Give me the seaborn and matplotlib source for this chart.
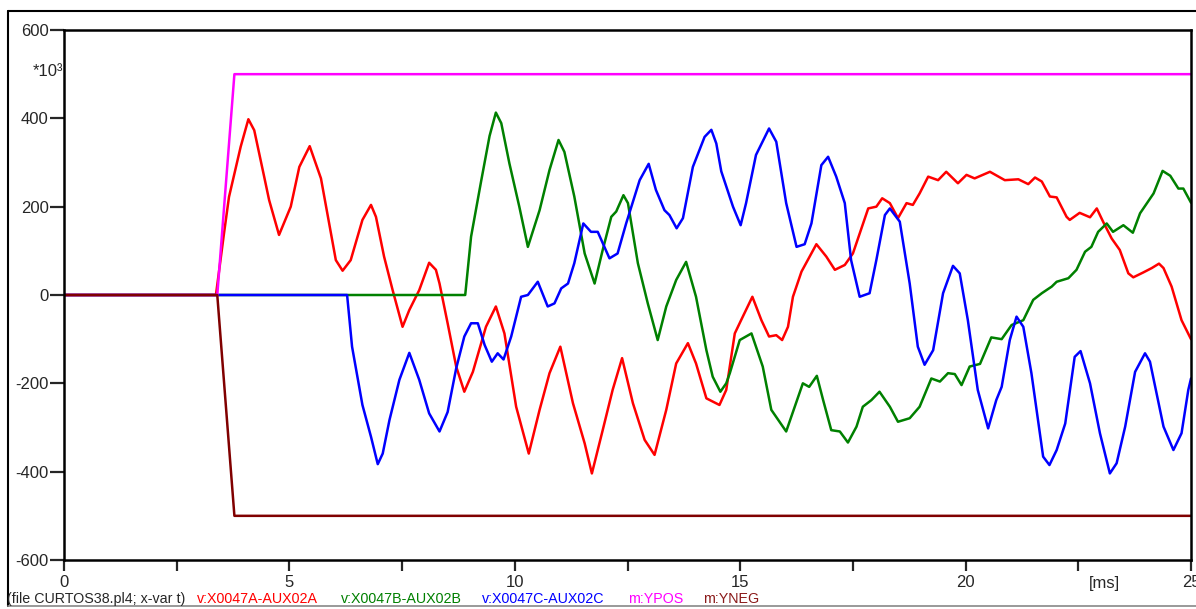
import pandas as pd
import numpy as np
import matplotlib
matplotlib.use("Agg")
import matplotlib.pyplot as plt
from matplotlib.lines import Line2D
import seaborn as sns

# --- data (time in ms, value in *10^3) ---
t_a = [0, 3.37, 3.55, 3.66, 3.92, 4.09, 4.22, 4.44, 4.55, 4.77, 5.03, 5.22, 5.45, 5.70, 6.03, 6.18,
       6.36, 6.62, 6.81, 6.92, 7.10, 7.29, 7.51, 7.66, 7.88, 8.10, 8.25, 8.33, 8.51, 8.70, 8.88, 9.07,
       9.36, 9.58, 9.77, 10.03, 10.31, 10.55, 10.77, 11.01, 11.29, 11.55, 11.71, 11.95, 12.17, 12.38,
       12.62, 12.88, 13.10, 13.36, 13.58, 13.84, 14.02, 14.25, 14.54, 14.69, 14.88, 15.02, 15.27, 15.47,
       15.64, 15.80, 15.93, 16.06, 16.17, 16.36, 16.69, 16.91, 17.10, 17.32, 17.50, 17.84, 18.02, 18.15,
       18.32, 18.50, 18.69, 18.83, 18.98, 19.17, 19.39, 19.57, 19.83, 20.02, 20.20, 20.54, 20.87, 21.17,
       21.39, 21.54, 21.69, 21.87, 22.02, 22.24, 22.31, 22.53, 22.76, 22.91, 23.05, 23.24, 23.42, 23.61,
       23.72, 23.94, 24.13, 24.29, 24.39, 24.57, 24.79, 25.0]
v_a = [0, 0, 140, 222, 336, 398, 373, 268, 215, 136, 200, 290, 337, 264, 79, 55,
       79, 170, 204, 177, 87, 11, -72, -34, 11, 73, 57, 26, -64, -162, -219, -174,
       -72, -26, -87, -253, -359, -260, -177, -117, -245, -336, -404, -306, -215, -143,
       -245, -328, -362, -260, -155, -109, -155, -234, -249, -215, -87, -57, -4, -57,
       -94, -91, -102, -72, -4, 53, 115, 87, 57, 68, 94, 196, 200, 219,
       208, 174, 208, 204, 230, 268, 260, 279, 253, 272, 264, 279, 260, 262,
       251, 266, 257, 223, 221, 177, 170, 186, 176, 196, 166, 128, 102, 49,
       40, 51, 61, 71, 61, 19, -57, -100]

t_b = [0, 8.90, 9.03, 9.25, 9.44, 9.58, 9.70, 9.88, 10.10, 10.29, 10.55, 10.77, 10.97, 11.10, 11.32,
       11.55, 11.77, 11.95, 12.14, 12.25, 12.41, 12.51, 12.73, 12.95, 13.17, 13.36, 13.58, 13.80, 14.02,
       14.25, 14.39, 14.56, 14.69, 14.77, 14.99, 15.25, 15.50, 15.69, 16.02, 16.21, 16.39, 16.53, 16.70,
       16.84, 17.02, 17.21, 17.39, 17.58, 17.72, 17.91, 18.09, 18.32, 18.50, 18.76, 18.98, 19.24, 19.43,
       19.61, 19.76, 19.91, 20.09, 20.32, 20.57, 20.80, 21.02, 21.28, 21.50, 21.69, 21.91, 22.02, 22.28,
       22.46, 22.65, 22.79, 22.94, 23.13, 23.27, 23.50, 23.71, 23.87, 24.17, 24.37, 24.54, 24.72, 24.83,
       25.0]
v_b = [0, 0, 132, 256, 360, 413, 389, 298, 200, 109, 192, 283, 351, 324, 223,
       94, 26, 102, 177, 189, 226, 208, 72, -19, -102, -26, 34, 75, -4,
       -125, -185, -219, -200, -177, -102, -87, -162, -260, -309, -253, -200, -208, -183,
       -238, -306, -309, -334, -298, -253, -238, -219, -253, -287, -279, -253, -189, -196,
       -177, -179, -204, -162, -156, -96, -100, -68, -57, -11, 4, 19, 30, 38,
       57, 98, 109, 143, 162, 143, 158, 141, 185, 230, 281, 270, 241, 241,
       209]

t_c = [0, 6.28, 6.39, 6.62, 6.81, 6.96, 7.07, 7.22, 7.44, 7.66, 7.88, 8.10, 8.33, 8.51, 8.70, 8.88,
       9.03, 9.18, 9.33, 9.49, 9.62, 9.75, 9.92, 10.14, 10.29, 10.51, 10.73, 10.88, 11.03, 11.18, 11.32,
       11.52, 11.69, 11.84, 12.10, 12.28, 12.47, 12.77, 12.97, 13.13, 13.32, 13.43, 13.59, 13.73, 13.95,
       14.21, 14.36, 14.47, 14.58, 14.84, 15.01, 15.13, 15.35, 15.64, 15.80, 16.02, 16.25, 16.43, 16.58,
       16.80, 16.95, 17.13, 17.32, 17.46, 17.65, 17.87, 18.02, 18.21, 18.32, 18.54, 18.76, 18.94, 19.09,
       19.28, 19.50, 19.72, 19.87, 20.05, 20.27, 20.50, 20.68, 20.80, 20.98, 21.13, 21.28, 21.46, 21.72,
       21.86, 22.02, 22.21, 22.42, 22.55, 22.76, 22.98, 23.20, 23.35, 23.54, 23.76, 23.98, 24.09, 24.39,
       24.61, 24.79, 24.94, 25.0]
v_c = [0, 0, -117, -249, -321, -383, -359, -283, -192, -131, -192, -268, -309, -265, -166, -94,
       -64, -64, -113, -151, -132, -146, -94, -4, 0, 30, -26, -19, 15, 26, 72,
       162, 143, 143, 83, 94, 162, 260, 297, 238, 192, 181, 151, 174, 290,
       358, 374, 343, 280, 200, 158, 208, 317, 377, 347, 208, 109, 115, 162,
       294, 313, 268, 208, 79, -4, 4, 79, 181, 196, 166, 26, -117, -158,
       -125, 4, 66, 49, -57, -215, -302, -238, -208, -102, -49, -72, -177, -366,
       -385, -351, -291, -140, -127, -200, -313, -404, -381, -298, -174, -132, -151, -298,
       -351, -313, -215, -189]

t_pos = [0, 3.40, 3.78, 25.0]
v_pos = [0, 0, 500, 500]
t_neg = [0, 3.40, 3.78, 25.0]
v_neg = [0, 0, -500, -500]

names = ["v:X0047A-AUX02A", "v:X0047B-AUX02B", "v:X0047C-AUX02C", "m:YPOS", "m:YNEG"]
colors = ["#ff0000", "#008000", "#0000ff", "#ff00ff", "#800000"]
text_colors = ["#ff0000", "#008000", "#0000ff", "#ff00ff", "#8b1a1a"]

sns.set_style("white")
plt.rcParams['font.family'] = ['Liberation Sans', 'DejaVu Sans']

fig = plt.figure(figsize=(11.96, 6.09), dpi=100)
ax = fig.add_axes([64 / 1196, 49 / 609, (1191 - 64) / 1196, (560 - 30) / 609])

series = [(t_a, v_a), (t_b, v_b), (t_c, v_c), (t_pos, v_pos), (t_neg, v_neg)]
for (t, v), name, col in zip(series, names, colors):
    df = pd.DataFrame({"t": t, "v": v})
    sns.lineplot(data=df, x="t", y="v", ax=ax, color=col, linewidth=1.8,
                 estimator=None, sort=False, legend=False)

ax.set_xlim(0, 25)
ax.set_ylim(-600, 600)
ax.set_xlabel("")
ax.set_ylabel("")

xt = np.arange(0, 25.01, 2.5)
ax.set_xticks(xt)
ax.set_xticklabels([f"{x:g}" if x % 5 == 0 else "" for x in xt], fontsize=12)
ax.set_yticks([-600, -400, -200, 0, 200, 400, 600])
ax.set_yticklabels(["-600", "-400", "-200", "0", "200", "400", "600"], fontsize=12)
ax.tick_params(axis="y", direction="out", length=10, width=1.6, pad=1, left=True)
ax.tick_params(axis="x", direction="out", length=8, width=1.6, pad=3, bottom=True)
for s in ax.spines.values():
    s.set_color("black")
    s.set_linewidth(1.8)
    s.set_visible(True)

ax.text(0.9235, -0.031, "[ms]", transform=ax.transAxes, ha="center", va="top", fontsize=12)
fig.text(63 / 1196, 1 - 72 / 609, "*10³", ha="right", va="center", fontsize=12)

# outer frame and footer line
fig.add_artist(Line2D([8 / 1196, 8 / 1196], [1 - 11 / 609, 1 - 606 / 609], color="black", lw=1.5))
fig.add_artist(Line2D([8 / 1196, 1.0], [1 - 11 / 609, 1 - 11 / 609], color="black", lw=1.5))
fig.add_artist(Line2D([8 / 1196, 1.0], [1 - 606 / 609, 1 - 606 / 609], color="#888888", lw=1.2))

# footer labels
fig.text(7 / 1196, 1 - 599 / 609, "(file CURTOS38.pl4; x-var t)", ha="left", va="center",
         fontsize=10.3)
xs = [197, 341, 482, 628, 703]
for x, name, col in zip(xs, names, text_colors):
    fig.text(x / 1196, 1 - 599 / 609, name, ha="left", va="center", fontsize=10.3, color=col)

fig.savefig("out.png", dpi=100)
